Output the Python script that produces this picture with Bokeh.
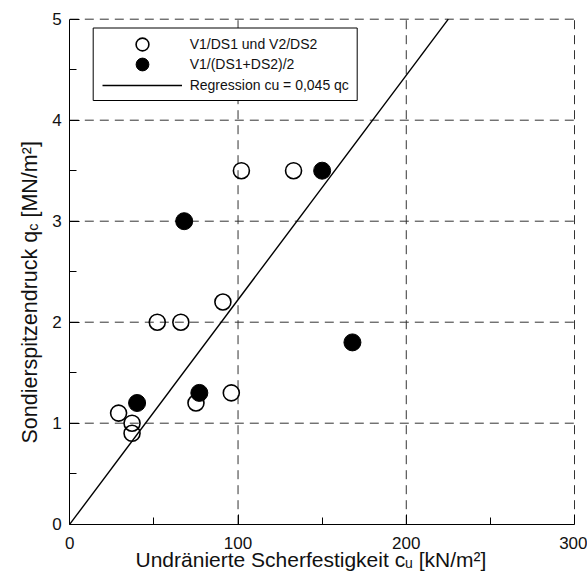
from math import pi
from bokeh.plotting import figure
from bokeh.models import Range1d, FixedTicker, Legend, LegendItem, Label, BoxAnnotation
from bokeh.embed import file_html
from bokeh.resources import INLINE

# ---------------- data ----------------
open_cu = [29, 37, 37, 52, 66, 75, 91, 96, 102, 133]
open_qc = [1.1, 1.0, 0.9, 2.0, 2.0, 1.2, 2.2, 1.3, 3.5, 3.5]
filled_cu = [40, 68, 77, 150, 168]
filled_qc = [1.2, 3.0, 1.3, 3.5, 1.8]
reg_factor = 0.045          # cu = 0.045 qc
reg_qc = [0, 5]
reg_cu = [reg_factor * 1000 * q for q in reg_qc]

x_ticks = [0, 100, 200, 300]
x_minor = [50, 150, 250]
y_ticks = [0, 1, 2, 3, 4, 5]
y_minor = [0.5, 1.5, 2.5, 3.5, 4.5]

label_open = "V1/DS1 und V2/DS2"
label_filled = "V1/(DS1+DS2)/2"
label_reg = "Regression cu = 0,045 qc"

FONT = "Liberation Sans"

# ---------------- layout (pixel geometry of the plot area) ----------------
W, H = 587, 572
PX0, PX1 = 69.3, 574.0      # pixel x of x=0 and x=300
PY0, PY1 = 523.7, 18.7      # pixel y of y=0 and y=5
xmin, xmax = x_ticks[0], x_ticks[-1]
ymin, ymax = y_ticks[0], y_ticks[-1]
sx = (PX1 - PX0) / (xmax - xmin)
sy = (PY0 - PY1) / (ymax - ymin)
x_range = Range1d(xmin - PX0 / sx, xmax + (W - PX1) / sx)
y_range = Range1d(ymin - (H - PY0) / sy, ymax + PY1 / sy)

p = figure(width=W, height=H, x_range=x_range, y_range=y_range,
           output_backend="svg", toolbar_location=None,
           min_border_left=0, min_border_right=0, min_border_top=0, min_border_bottom=0)
p.title.visible = False
p.outline_line_color = None
p.background_fill_color = "white"
p.border_fill_color = "white"
p.grid.visible = False

p.xaxis.fixed_location = 0
p.yaxis.fixed_location = 0
p.xaxis.bounds = (xmin, xmax)
p.yaxis.bounds = (ymin, ymax)
p.xaxis.ticker = FixedTicker(ticks=x_ticks, minor_ticks=x_minor)
p.yaxis.ticker = FixedTicker(ticks=y_ticks, minor_ticks=y_minor)
for ax in (p.xaxis[0], p.yaxis[0]):
    ax.axis_line_color = "black"
    ax.axis_line_width = 1
    ax.major_tick_in = 10
    ax.major_tick_out = 0
    ax.minor_tick_in = 7
    ax.minor_tick_out = 0
    ax.major_tick_line_color = "black"
    ax.minor_tick_line_color = "black"
    ax.major_label_text_font = FONT
    ax.major_label_text_font_size = "17px"
    ax.major_label_text_color = "#111111"
p.xaxis.major_label_standoff = 13
p.yaxis.major_label_standoff = 8

# ---------------- dashed grid (drawn from the tick lists) ----------------
gx = x_ticks[1:]
p.segment(x0=gx, y0=[ymin] * len(gx), x1=gx, y1=[ymax] * len(gx),
          line_color="#333333", line_width=1, line_dash="9 6")
gy = y_ticks[1:]
p.segment(x0=[xmin] * len(gy), y0=gy, x1=[xmax] * len(gy), y1=gy,
          line_color="#333333", line_width=1, line_dash="9 6")

# ---------------- glyphs ----------------
r_open = p.scatter(open_cu, open_qc, marker="circle", size=16, fill_color=None,
                   line_color="black", line_width=1.6)
r_fill = p.scatter(filled_cu, filled_qc, marker="circle", size=17, fill_color="black",
                   line_color="black", line_width=1)
r_line = p.line(reg_cu, reg_qc, line_color="black", line_width=1.4)

# ---------------- legend ----------------
box = BoxAnnotation(left=92.7, right=356.7, top=H - 27.5, bottom=H - 100,
                    left_units="screen", right_units="screen",
                    top_units="screen", bottom_units="screen",
                    fill_color="white", fill_alpha=1.0,
                    line_color="black", line_width=1, line_alpha=1.0)
p.add_layout(box)

for lab, rend, cy in ((label_open, r_open, 43.5), (label_filled, r_fill, 64.0),
                      (label_reg, r_line, 84.5)):
    lg = Legend(items=[LegendItem(label=lab, renderers=[rend])],
                location=(101.7, H - cy - 16), orientation="vertical",
                glyph_width=80, glyph_height=32, spacing=0, padding=0, margin=0,
                label_standoff=8, label_height=20,
                label_text_font=FONT, label_text_font_size="14px",
                label_text_color="#111111",
                border_line_color=None, background_fill_alpha=0)
    p.add_layout(lg)

# ---------------- axis titles (with subscripts) ----------------
AW = {' ': 278, '[': 278, ']': 278, '/': 278, '\u00b2': 333, 'U': 722, 'S': 667,
      'N': 722, 'M': 833, 'a': 556, '\u00e4': 556, 'c': 500, 'd': 556, 'e': 556,
      'f': 278, 'g': 556, 'h': 556, 'i': 222, 'k': 500, 'm': 833, 'n': 556,
      'o': 556, 'p': 556, 'q': 556, 'r': 333, 's': 500, 't': 278, 'u': 556, 'z': 500}


def tw(s, size):
    return sum(AW.get(c, 556) for c in s) * size / 1000.0


def add_pieces(pieces, start, base, rotated):
    # leading blanks are not rendered by SVG text, so they only advance the pen
    pos = start
    for txt, size, shift in pieces:
        stripped = txt.lstrip(" ")
        pos += tw(txt[:len(txt) - len(stripped)], size)
        if rotated:
            lab = Label(x=base + shift, y=pos, x_units="screen", y_units="screen",
                        text=stripped, angle=pi / 2, text_align="left",
                        text_baseline="alphabetic", text_font=FONT,
                        text_font_size=f"{size}px", text_color="#111111")
        else:
            lab = Label(x=pos, y=base - shift, x_units="screen", y_units="screen",
                        text=stripped, text_align="left", text_baseline="alphabetic",
                        text_font=FONT, text_font_size=f"{size}px",
                        text_color="#111111")
        p.add_layout(lab)
        pos += tw(stripped, size)


x_pieces = [("Undränierte Scherfestigkeit c", 21, 0), ("u", 14, 3.5), (" [kN/m²]", 21, 0)]
add_pieces(x_pieces, 135.0, H - 559.0, rotated=False)

y_pieces = [("Sondierspitzendruck q", 21.5, 0), ("c", 14.5, 3), (" [MN/m²]", 21.5, 0)]
add_pieces(y_pieces, H - 443.0, 29.0, rotated=True)

open("out.html", "w").write(file_html(p, INLINE))
